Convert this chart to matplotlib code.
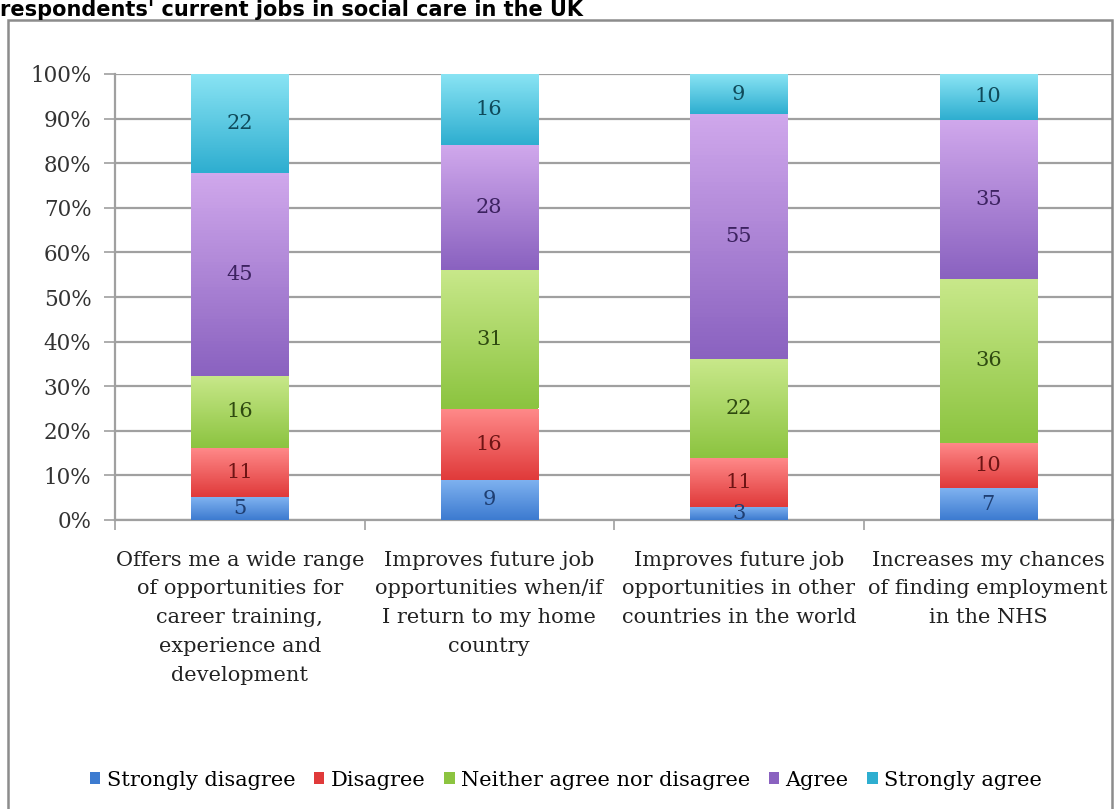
import numpy as np
import matplotlib.pyplot as plt
from matplotlib.colors import LinearSegmentedColormap
from matplotlib.patches import Rectangle

categories = [
    'Offers me a wide range\nof opportunities for\ncareer training,\nexperience and\ndevelopment',
    'Improves future job\nopportunities when/if\nI return to my home\ncountry',
    'Improves future job\nopportunities in other\ncountries in the world',
    'Increases my chances\nof finding employment\nin the NHS',
]
series = ['Strongly disagree', 'Disagree', 'Neither agree nor disagree', 'Agree', 'Strongly agree']
strongly_disagree = [5, 9, 3, 7]
disagree = [11, 16, 11, 10]
neither = [16, 31, 22, 36]
agree = [45, 28, 55, 35]
strongly_agree = [22, 16, 9, 10]
yticks = [0, 10, 20, 30, 40, 50, 60, 70, 80, 90, 100]

# (top, bottom, label) colours per series
colours = [
    ('#7fb2f0', '#3d7bd0', '#1f3f73'),
    ('#ff8a8a', '#e03a3a', '#6e1414'),
    ('#c8e88a', '#8cc440', '#2f4a10'),
    ('#d0a8ec', '#8a62c0', '#3c2260'),
    ('#8ae4f4', '#2eaed0', '#0f4a5a'),
]

values = np.array([strongly_disagree, disagree, neither, agree, strongly_agree], dtype=float)
shares = values / values.sum(axis=0) * 100

fig = plt.figure(figsize=(11.17, 8.09), dpi=100)
ax = fig.add_axes([115 / 1117, 289 / 809, 998 / 1117, 446 / 809])

x = np.arange(len(categories))
bottom = np.zeros(len(categories))
for k, name in enumerate(series):
    top_c, bot_c, txt_c = colours[k]
    bars = ax.bar(x, shares[k], 0.39, bottom=bottom, color=bot_c, label=name,
                  linewidth=0, zorder=3)
    cmap = LinearSegmentedColormap.from_list('g%d' % k, [bot_c, top_c])
    grad = np.linspace(0, 1, 64).reshape(-1, 1)
    for b in bars:
        x0, y0 = b.get_x(), b.get_y()
        w, h = b.get_width(), b.get_height()
        im = ax.imshow(grad, cmap=cmap, origin='lower', aspect='auto',
                       extent=[x0, x0 + w, y0, y0 + h], zorder=3.5)
        im.set_clip_path(b)
    for i in range(len(categories)):
        ax.text(x[i], bottom[i] + shares[k][i] / 2, '%d' % values[k][i],
                ha='center', va='center', fontsize=15, color=txt_c,
                family='DejaVu Serif', zorder=5)
    bottom += shares[k]

ax.set_xlim(-0.5, 3.5)
ax.set_ylim(0, 100)
ax.set_yticks(yticks)
ax.set_yticklabels(['%d%%' % t for t in yticks], family='DejaVu Serif', fontsize=15.5, color='#333333')
ax.yaxis.grid(True, color='#a0a0a0', linewidth=1.6, zorder=0)
ax.tick_params(axis='y', length=8, color='#a0a0a0', width=1.2, pad=9)
ax.set_xticks(x)
ax.set_xticklabels(categories, family='DejaVu Serif', fontsize=15, color='#222222', linespacing=1.65)
ax.tick_params(axis='x', length=0, pad=22)
ax.set_xticks(np.arange(-0.5, 4, 1), minor=True)
ax.tick_params(axis='x', which='minor', length=7, color='#a0a0a0', width=1.2)
for s in ['top', 'right']:
    ax.spines[s].set_visible(False)
for s in ['left', 'bottom']:
    ax.spines[s].set_color('#a0a0a0')
    ax.spines[s].set_linewidth(1.6)

# chart frame
fig.patches.append(Rectangle((8 / 1117, -0.05), 1104 / 1117, 1 - 20 / 809 + 0.05,
                             transform=fig.transFigure, fill=False,
                             edgecolor='#8c8c8c', linewidth=1.8))

fig.text(0.0, 1 - 16 / 809, "respondents' current jobs in social care in the UK",
         fontsize=15, fontweight='bold', family='DejaVu Sans', ha='left', va='baseline')

handles, labels = ax.get_legend_handles_labels()
fig.legend(handles, labels, loc='center', bbox_to_anchor=(566 / 1117, 1 - 780 / 809), ncol=5,
           frameon=False, handlelength=0.5, handleheight=0.5, handletextpad=0.3,
           columnspacing=0.9, prop={'family': 'DejaVu Serif', 'size': 15})

fig.savefig('out.png', dpi=100)
